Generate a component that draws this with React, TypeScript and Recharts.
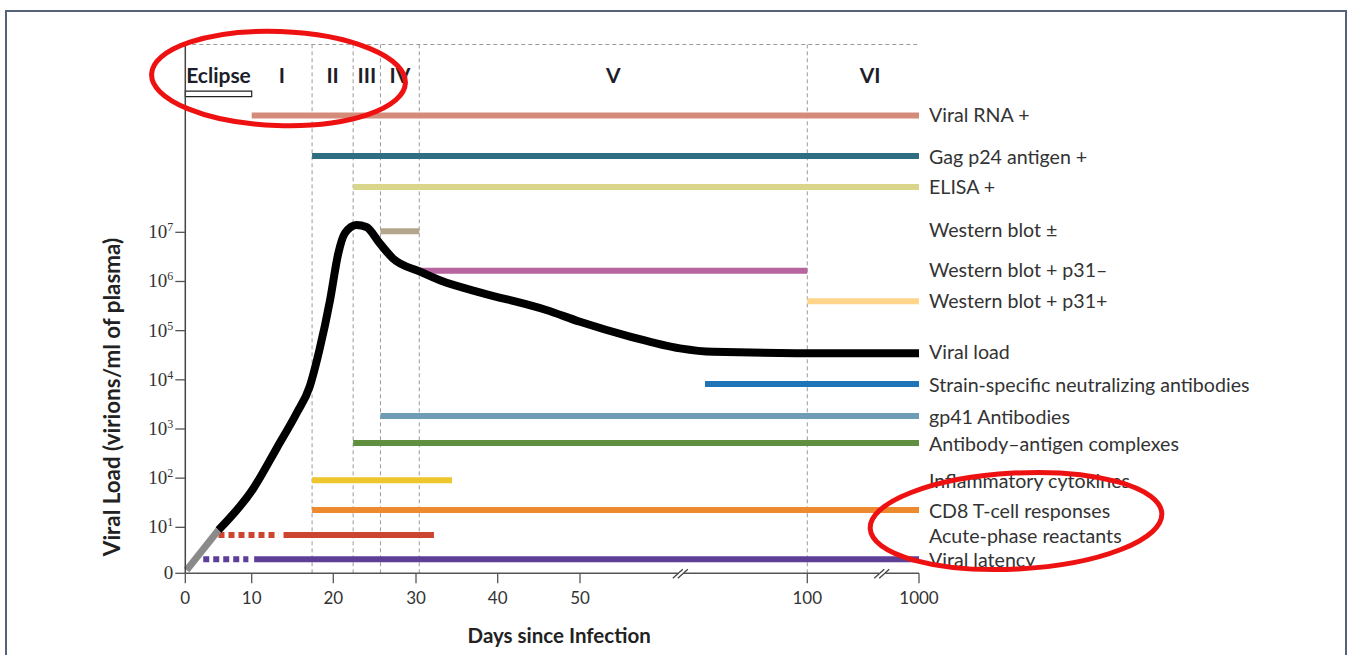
import React from 'react';
import { ComposedChart, Line, XAxis, YAxis, ReferenceLine, ReferenceArea, ReferenceDot, Scatter } from 'recharts';

// ---- axis definitions (schematic, broken time axis) ----
const tickDays = [0, 10, 20, 30, 40, 50, 100, 1000];
const tickPos = [0, 66.4, 148, 230.7, 312.4, 394.7, 622, 733.7];
const tickLabels = ['0', '10', '20', '30', '40', '50', '100', '1000'];
const breakDays = [72.4, 712];

const Y_ZERO = 0.065; // the "0" level of the log axis
const Y_TOP = 10.82;
const yTickValues = [Y_ZERO, 1, 2, 3, 4, 5, 6, 7];
const yTickExponents = ['', '1', '2', '3', '4', '5', '6', '7'];

// ---- phases (Fiebig stages) ----
const phaseNames = ['Eclipse', 'I', 'II', 'III', 'IV', 'V', 'VI'];
const phaseStarts = [0, 10, 17.4, 22.4, 25.7, 30.4, 100];
const phaseEnds = [10, 17.4, 22.4, 25.7, 30.4, 100, 1000];
const phaseBoundaries = [17.4, 22.4, 25.7, 30.4, 100];
const PHASE_LABEL_LEVEL = 10.22;
const ECLIPSE_BOX = [9.76, 9.87];

// ---- viral load (log10 virions/ml) ----
const seedDays = [0.2, 5];
const seedLog = [0.13, 0.945];
const viralLoadDays = [5, 10.2, 13.1, 15.5, 17.1, 18.3, 19.6, 20.6, 21.4, 22.8, 24.0, 25.6, 27.2, 30.5, 33, 37.8, 45.9, 50, 61, 72, 79.3, 283, 1000];
const viralLoadLog = [0.945, 1.79, 2.62, 3.32, 3.86, 4.61, 5.62, 6.57, 6.98, 7.15, 7.11, 6.78, 6.47, 6.2, 6.02, 5.78, 5.42, 5.18, 4.88, 4.64, 4.57, 4.54, 4.54];

// ---- marker bars ----
const markerNames = [
  'Viral RNA +', 'Gag p24 antigen +', 'ELISA +', 'Western blot \u00b1', 'Western blot + p31\u2013',
  'Western blot + p31+', 'Strain-specific neutralizing antibodies', 'gp41 Antibodies',
  'Antibody\u2013antigen complexes', 'Inflammatory cytokines', 'CD8 T-cell responses',
  'Acute-phase reactants', 'Viral latency',
];
const markerLevels = [9.375, 8.55, 7.92, 7.02, 6.22, 5.6, 3.915, 3.264, 2.715, 1.956, 1.352, 0.843, 0.349];
const markerStarts = [10, 17.4, 22.4, 25.7, 30.4, 100, 77.5, 25.7, 22.4, 17.4, 17.4, 13.9, 10.3];
const markerEnds = [1000, 1000, 1000, 30.4, 100, 1000, 1000, 1000, 1000, 34.4, 1000, 32.2, 1000];
const markerColors = ['#D48B7A', '#2E6D82', '#D9D68C', '#B3A68C', '#B7659E', '#FFD58C', '#1F74B8', '#6E9DB5', '#5F8F3F', '#EDC62B', '#EE8A2E', '#CC452F', '#5E3F98'];
const dottedNames = ['Acute-phase reactants', 'Viral latency'];
const dottedStarts = [5, 2.7];
const dottedEnds = [13.3, 9.5];

const labelNames = [
  'Viral RNA +', 'Gag p24 antigen +', 'ELISA +', 'Western blot \u00b1', 'Western blot + p31\u2013',
  'Western blot + p31+', 'Viral load', 'Strain-specific neutralizing antibodies', 'gp41 Antibodies',
  'Antibody\u2013antigen complexes', 'Inflammatory cytokines', 'CD8 T-cell responses',
  'Acute-phase reactants', 'Viral latency',
];
const labelLevels = [9.39, 8.55, 7.94, 7.06, 6.24, 5.62, 4.58, 3.915, 3.264, 2.715, 1.956, 1.352, 0.843, 0.349];

// piecewise mapping of days onto the schematic axis
function dayToPos(d: number): number {
  for (let i = 0; i < tickDays.length - 1; i++) {
    if (d <= tickDays[i + 1]) {
      const t = (d - tickDays[i]) / (tickDays[i + 1] - tickDays[i]);
      return tickPos[i] + t * (tickPos[i + 1] - tickPos[i]);
    }
  }
  return tickPos[tickPos.length - 1];
}

const SANS = 'Lato, "Open Sans", sans-serif';
const SERIF = '"Liberation Serif", "DejaVu Serif", serif';

const seedData = seedDays.map((d, i) => ({ pos: dayToPos(d), v: seedLog[i] }));
const viralData = viralLoadDays.map((d, i) => ({ pos: dayToPos(d), v: viralLoadLog[i] }));
const labelData = labelNames.map((n, i) => ({ pos: tickPos[tickPos.length - 1], v: labelLevels[i], name: n }));
const phaseLabelData = phaseNames.map((n, i) => ({
  pos: (dayToPos(phaseStarts[i]) + dayToPos(phaseEnds[i])) / 2 + (n === 'VI' ? 7 : 0),
  v: PHASE_LABEL_LEVEL,
  name: n,
}));

const XTick = (props: any) => {
  const { x, y, payload } = props;
  const idx = tickPos.findIndex((p) => Math.abs(p - payload.value) < 0.01);
  return (
    <text x={x} y={y + 19} textAnchor="middle" fontFamily={SANS} fontSize={17} fill="#333">
      {idx >= 0 ? tickLabels[idx] : ''}
    </text>
  );
};

const YTick = (props: any) => {
  const { x, y, payload } = props;
  const idx = yTickValues.findIndex((p) => Math.abs(p - payload.value) < 0.001);
  const exp = idx >= 0 ? yTickExponents[idx] : '';
  return (
    <text x={x} y={y + 6} textAnchor="end" fontFamily={SERIF} fontSize={19} fill="#333">
      {exp === '' ? '0' : '10'}
      {exp !== '' && (
        <tspan dy={-7} fontSize={12}>{exp}</tspan>
      )}
    </text>
  );
};

const XTitle = (props: any) => {
  const vb = props.viewBox || { x: 185, y: 573, width: 734, height: 30 };
  return (
    <text x={vb.x + vb.width / 2 + 7} y={vb.y + 62} textAnchor="middle" dominantBaseline="central"
      fontFamily={SANS} fontWeight="bold" fontSize={20.5} fill="#222">
      Days since Infection
    </text>
  );
};

const YTitle = (props: any) => {
  const vb = props.viewBox || { x: 125, y: 44, width: 60, height: 529 };
  const cx = vb.x - 14;
  const cy = vb.y + 352.5;
  return (
    <text x={cx} y={cy} transform={`rotate(-90, ${cx}, ${cy})`} textAnchor="middle" dominantBaseline="central"
      fontFamily={SANS} fontWeight="bold" fontSize={22.4} fill="#222">
      Viral Load (virions/ml of plasma)
    </text>
  );
};

const SideLabel = (props: any) => {
  const { cx, cy, payload } = props;
  return (
    <text x={cx + 10} y={cy} dominantBaseline="central" fontFamily={SANS} fontSize={19.6} fill="#333">
      {payload.name}
    </text>
  );
};

const PhaseLabel = (props: any) => {
  const { cx, cy, payload } = props;
  return (
    <text x={cx} y={cy} textAnchor="middle" dominantBaseline="central" fontFamily={SANS} fontWeight="bold" fontSize={21} fill="#1e1e2a">
      {payload.name}
    </text>
  );
};

const BreakMark = (props: any) => {
  const { cx, cy } = props;
  return (
    <g>
      <rect x={cx - 4} y={cy - 2} width={6} height={4} fill="#fff" />
      <line x1={cx - 9} y1={cy + 5} x2={cx + 1} y2={cy - 4} stroke="#444" strokeWidth={1.3} />
      <line x1={cx - 4} y1={cy + 5} x2={cx + 6} y2={cy - 4} stroke="#444" strokeWidth={1.3} />
    </g>
  );
};

export default function App() {
  return (
    <div style={{ position: 'absolute', left: 0, top: 0, width: 1352, height: 655, overflow: 'hidden', background: '#fff' }}>
      <div style={{ position: 'absolute', left: 5, top: 10, width: 1342, height: 720, border: '2px solid #56627A', boxSizing: 'border-box' }} />
      <div style={{ position: 'absolute', left: 0, top: 0 }}>
        <ComposedChart width={1352} height={655} margin={{ top: 44.5, right: 433, bottom: 51.7, left: 125.3 }}>
          <XAxis
            dataKey="pos"
            type="number"
            domain={[0, tickPos[tickPos.length - 1]]}
            ticks={tickPos}
            height={30}
            tickSize={10}
            tick={<XTick />}
            axisLine={{ stroke: '#555', strokeWidth: 1.5 }}
            tickLine={{ stroke: '#555', strokeWidth: 1.3 }}
            label={<XTitle />}
          />
          <YAxis
            dataKey="v"
            type="number"
            domain={[Y_ZERO, Y_TOP]}
            ticks={yTickValues}
            width={60}
            tickSize={10}
            tick={<YTick />}
            axisLine={{ stroke: '#444', strokeWidth: 1.5 }}
            tickLine={{ stroke: '#555', strokeWidth: 1.3 }}
            label={<YTitle />}
          />
          <ReferenceLine y={Y_TOP} stroke="#9a9a9a" strokeDasharray="4 3" strokeWidth={1} ifOverflow="visible" />
          {phaseBoundaries.map((d) => (
            <ReferenceLine key={'pb' + d} x={dayToPos(d)} stroke="#9a9a9a" strokeDasharray="4 3" strokeWidth={1} />
          ))}
          <ReferenceArea x1={dayToPos(0)} x2={dayToPos(10)} y1={ECLIPSE_BOX[0]} y2={ECLIPSE_BOX[1]} fill="#fff" fillOpacity={1} stroke="#222" strokeWidth={1.2} />
          {breakDays.map((d) => (
            <ReferenceDot key={'br' + d} x={dayToPos(d)} y={Y_ZERO} r={0} ifOverflow="visible" shape={<BreakMark />} />
          ))}
          {markerNames.map((n, i) => (
            <Line
              key={'m' + i}
              name={n}
              data={[{ pos: dayToPos(markerStarts[i]), v: markerLevels[i] }, { pos: dayToPos(markerEnds[i]), v: markerLevels[i] }]}
              dataKey="v"
              type="linear"
              stroke={markerColors[i]}
              strokeWidth={6}
              dot={false}
              activeDot={false}
              isAnimationActive={false}
            />
          ))}
          {dottedNames.map((n, i) => {
            const mi = markerNames.indexOf(n);
            return (
              <Line
                key={'d' + i}
                name={n + ' (early)'}
                data={[{ pos: dayToPos(dottedStarts[i]), v: markerLevels[mi] }, { pos: dayToPos(dottedEnds[i]), v: markerLevels[mi] }]}
                dataKey="v"
                type="linear"
                stroke={markerColors[mi]}
                strokeWidth={6}
                strokeDasharray="6 4"
                dot={false}
                activeDot={false}
                isAnimationActive={false}
              />
            );
          })}
          <Line data={seedData} dataKey="v" type="linear" stroke="#8a8a8a" strokeWidth={7} dot={false} activeDot={false} isAnimationActive={false} />
          <Line data={viralData} dataKey="v" type="monotone" stroke="#000" strokeWidth={8} dot={false} activeDot={false} isAnimationActive={false} />
          <Scatter data={labelData} dataKey="v" shape={<SideLabel />} isAnimationActive={false} />
          <Scatter data={phaseLabelData} dataKey="v" shape={<PhaseLabel />} isAnimationActive={false} />
        </ComposedChart>
      </div>
      <svg width={1352} height={655} style={{ position: 'absolute', left: 0, top: 0, pointerEvents: 'none' }}>
        <ellipse cx={278.5} cy={78.5} rx={127} ry={47} fill="none" stroke="#EE1111" strokeWidth={5} transform="rotate(2, 278.5, 78.5)" />
        <ellipse cx={1016} cy={521} rx={146} ry={48} fill="none" stroke="#EE1111" strokeWidth={5} transform="rotate(-3, 1016, 521)" />
      </svg>
    </div>
  );
}
